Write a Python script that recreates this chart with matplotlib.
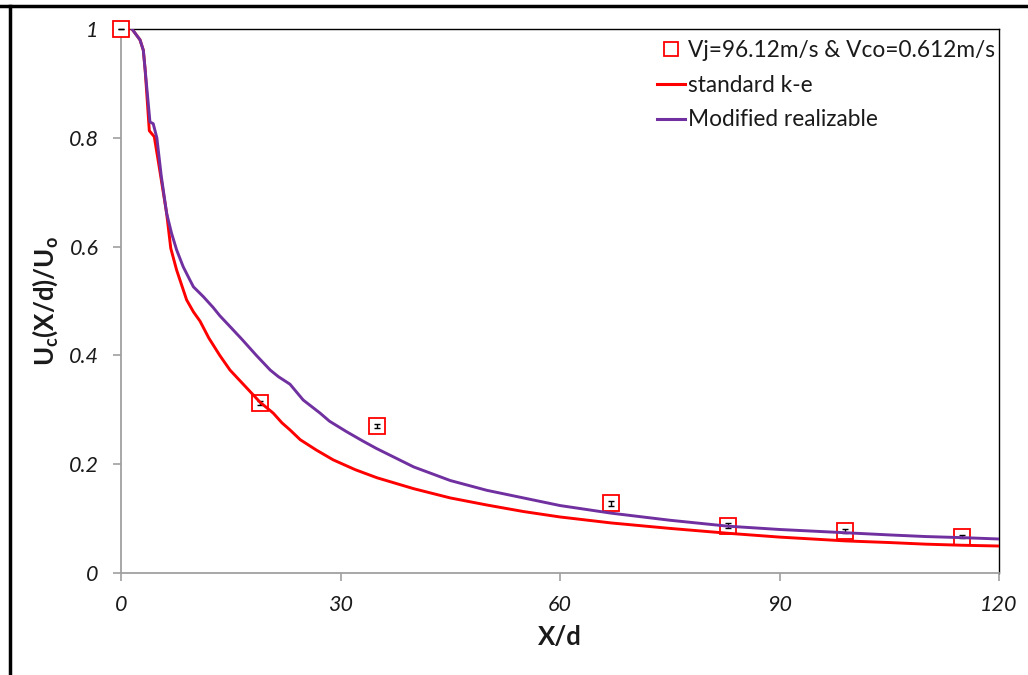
import matplotlib
matplotlib.use("Agg")
import matplotlib.pyplot as plt
from matplotlib.lines import Line2D

# Measured centreline velocity decay
x_exp = [0, 19, 35, 67, 83, 99, 115]
u_exp = [1.0, 0.313, 0.270, 0.128, 0.087, 0.077, 0.067]
u_err = [0.0, 0.004, 0.004, 0.004, 0.004, 0.003, 0.002]

# standard k-e prediction
x_ke = [1.5, 2.6, 3.05, 3.3, 3.87, 4.55, 5.3, 6.24, 6.8, 7.6, 8.97, 9.9, 10.8,
        12.0, 13.5, 14.9, 16.5, 18.1, 19.0, 20.8, 22.0, 23.1, 24.5, 26.7, 29.0,
        32.0, 35.0, 40.0, 45.0, 50.0, 55.0, 60.0, 67.0, 75.0, 83.0, 90.0, 99.0,
        105.0, 110.0, 115.0, 120.0]
u_ke = [1.0, 0.98, 0.961, 0.925, 0.813, 0.802, 0.74, 0.661, 0.597, 0.557, 0.502,
        0.480, 0.463, 0.432, 0.40, 0.373, 0.35, 0.327, 0.314, 0.294, 0.276, 0.263,
        0.245, 0.226, 0.208, 0.19, 0.175, 0.155, 0.138, 0.125, 0.113, 0.103,
        0.092, 0.082, 0.073, 0.066, 0.059, 0.056, 0.053, 0.051, 0.0496]

# Modified realizable k-e prediction
x_mr = [1.5, 2.6, 3.05, 3.3, 3.96, 4.4, 4.9, 5.5, 6.24, 6.9, 7.6, 8.5, 9.4, 9.9,
        11.25, 12.6, 13.5, 14.9, 16.5, 18.5, 20.4, 21.5, 23.1, 24.9, 27.2, 28.5,
        30.8, 33.0, 34.9, 40.0, 45.0, 50.0, 55.0, 60.0, 67.0, 75.0, 83.0, 90.0,
        99.0, 105.0, 110.0, 115.0, 120.0]
u_mr = [1.0, 0.98, 0.961, 0.925, 0.829, 0.826, 0.80, 0.73, 0.661, 0.625, 0.594,
        0.563, 0.539, 0.526, 0.508, 0.488, 0.473, 0.453, 0.43, 0.40, 0.373, 0.361,
        0.347, 0.318, 0.294, 0.279, 0.26, 0.243, 0.229, 0.195, 0.17, 0.152,
        0.138, 0.124, 0.11, 0.097, 0.086, 0.08, 0.074, 0.07, 0.067, 0.065, 0.0625]

x_ticks = [0, 30, 60, 90, 120]
y_ticks = [0, 0.2, 0.4, 0.6, 0.8, 1.0]
y_ticklabels = ["0", "0.2", "0.4", "0.6", "0.8", "1"]

RED = "#FF0000"
PURPLE = "#7030A0"
AXIS_GREY = "#A0A0A0"
TEXT = "#1a1a1a"

plt.rcParams["font.family"] = ["Lato", "DejaVu Sans"]
plt.rcParams["mathtext.fontset"] = "custom"
plt.rcParams["mathtext.rm"] = "Lato:bold"
plt.rcParams["mathtext.it"] = "Lato:bold"
plt.rcParams["mathtext.bf"] = "Lato:bold"

fig = plt.figure(figsize=(10.28, 6.75), dpi=100)
ax = fig.add_axes([121 / 1028, 1 - 573 / 675, (999 - 121) / 1028, (573 - 29) / 675])

ax.plot(x_ke, u_ke, color=RED, lw=2.1, zorder=4, solid_joinstyle="round")
ax.plot(x_mr, u_mr, color=PURPLE, lw=2.1, zorder=4, solid_joinstyle="round")
ax.plot(x_exp, u_exp, ls="none", marker="s", ms=11.5, mfc="white",
        mec=RED, mew=1.3, zorder=3, clip_on=False)
ax.errorbar(x_exp, u_exp, yerr=u_err, fmt="none", ecolor="black",
            elinewidth=1.0, capsize=2.5, capthick=1.0, zorder=3.5, clip_on=False)

ax.set_xlim(0, 120)
ax.set_ylim(0, 1)
ax.set_xticks(x_ticks)
ax.set_xticklabels([str(v) for v in x_ticks])
ax.set_yticks(y_ticks)
ax.set_yticklabels(y_ticklabels)

for s in ("left", "bottom"):
    ax.spines[s].set_color(AXIS_GREY)
    ax.spines[s].set_linewidth(1.3)
for s in ("top", "right"):
    ax.spines[s].set_color("black")
    ax.spines[s].set_linewidth(1.0)

ax.tick_params(axis="both", direction="out", length=6, width=1.2,
               color=AXIS_GREY, labelsize=15.5, labelcolor=TEXT)
ax.tick_params(axis="y", pad=10)
ax.tick_params(axis="x", pad=10)
for lab in ax.get_xticklabels() + ax.get_yticklabels():
    lab.set_fontstyle("italic")

ax.set_xlabel("X/d", fontsize=18.5, fontweight="bold", color=TEXT, labelpad=7)
ax.set_ylabel(r"U$_\mathrm{c}$(X/d)/U$_\mathrm{o}$", fontsize=18.5,
              fontweight="bold", color=TEXT, labelpad=6)

handles = [
    Line2D([], [], ls="none", marker="s", ms=10, mfc="white", mec=RED, mew=1.3),
    Line2D([], [], color=RED, lw=2.2),
    Line2D([], [], color=PURPLE, lw=2.2),
]
labels = ["Vj=96.12m/s & Vco=0.612m/s", "standard k-e", "Modified realizable"]
leg = ax.legend(handles, labels, loc="upper left", bbox_to_anchor=(0.598, 1.0),
                frameon=False, fontsize=16.3, handlelength=1.2,
                handletextpad=0.15, labelspacing=0.6, borderaxespad=0.1)
for t in leg.get_texts():
    t.set_color(TEXT)

# Outer frame lines along the top and left edge of the canvas
fig.add_artist(Line2D([0, 1], [1 - 6 / 675, 1 - 6 / 675], color="black", lw=2.5,
                      transform=fig.transFigure))
fig.add_artist(Line2D([9.5 / 1028, 9.5 / 1028], [0, 1 - 6 / 675], color="black",
                      lw=2.5, transform=fig.transFigure))

fig.savefig("out.png", dpi=100)
